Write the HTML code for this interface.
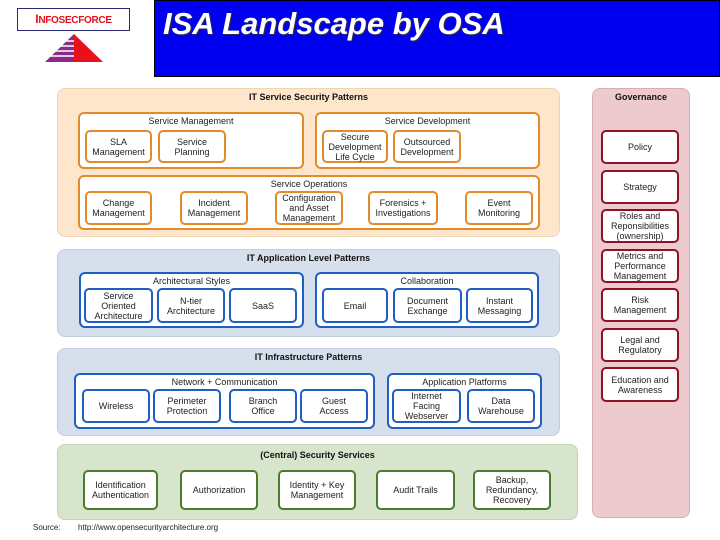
<!DOCTYPE html>
<html><head><meta charset="utf-8"><style>
*{margin:0;padding:0;box-sizing:border-box}
body{width:720px;height:540px;background:#fff;position:relative;overflow:hidden;font-family:"Liberation Sans",Arial,sans-serif}
div{position:absolute}
.p{border-radius:8px}
.t{font-weight:bold;font-size:9px;text-align:center;width:100%;top:3px;color:#111}
.g{background:#fff;border-radius:6px;border:2px solid}
.gl{font-size:9px;text-align:center;width:100%;top:2px;color:#222}
.b{background:#fff;border-radius:5px;border:2px solid;display:flex;align-items:center;justify-content:center;text-align:center;font-size:9px;line-height:10px;color:#222}
.o{border-color:#e38a2a}.bl{border-color:#1f5fc4}.r{border-color:#8c1224}.gr{border-color:#4d7a2c}
</style></head><body>
<div style="left:17px;top:8px;width:113px;height:23px;border:1px solid #2a2a70;color:#e01020;font-weight:bold;font-size:12px;text-align:center;line-height:21px;letter-spacing:-0.3px">I<span style="font-size:10px">NFOSECFORCE</span></div>
<svg style="position:absolute;left:44px;top:33px" width="60" height="30"><polygon points="30,1 59,29 30,29" fill="#e8101a"/><polygon points="30,1 1,29 30,29" fill="#8a2a8a"/><g stroke="#fff" stroke-width="1.6"><line x1="0" y1="8" x2="30" y2="8"/><line x1="0" y1="13" x2="30" y2="13"/><line x1="0" y1="18" x2="30" y2="18"/><line x1="0" y1="23" x2="30" y2="23"/></g></svg>
<div style="left:154px;top:0;width:566px;height:77px;background:#0000f0;border:1px solid #000"></div>
<div style="left:163px;top:6px;color:#fff;font-style:italic;font-weight:bold;font-size:31px;text-shadow:1px 1px 1px #333">ISA Landscape by OSA</div>

<!-- Orange -->
<div class="p" style="left:57px;top:88px;width:503px;height:149px;background:#fde6cb;border:1px solid #f0d4b0"><div class="t">IT Service Security Patterns</div></div>
<div class="g o" style="left:78px;top:112px;width:226px;height:57px"><div class="gl">Service Management</div></div>
<div class="g o" style="left:315px;top:112px;width:225px;height:57px"><div class="gl">Service Development</div></div>
<div class="b o" style="left:85px;top:130px;width:67px;height:33px">SLA<br>Management</div>
<div class="b o" style="left:158px;top:130px;width:68px;height:33px">Service<br>Planning</div>
<div class="b o" style="left:322px;top:130px;width:66px;height:33px">Secure<br>Development<br>Life Cycle</div>
<div class="b o" style="left:393px;top:130px;width:68px;height:33px">Outsourced<br>Development</div>
<div class="g o" style="left:78px;top:175px;width:462px;height:55px"><div class="gl">Service Operations</div></div>
<div class="b o" style="left:85px;top:191px;width:67px;height:34px">Change<br>Management</div>
<div class="b o" style="left:180px;top:191px;width:68px;height:34px">Incident<br>Management</div>
<div class="b o" style="left:275px;top:191px;width:68px;height:34px">Configuration<br>and Asset<br>Management</div>
<div class="b o" style="left:368px;top:191px;width:70px;height:34px">Forensics +<br>Investigations</div>
<div class="b o" style="left:465px;top:191px;width:68px;height:34px">Event<br>Monitoring</div>

<!-- Blue 1 -->
<div class="p" style="left:57px;top:249px;width:503px;height:88px;background:#d6e0ec;border:1px solid #c0cedf"><div class="t">IT Application Level Patterns</div></div>
<div class="g bl" style="left:79px;top:272px;width:225px;height:56px"><div class="gl">Architectural Styles</div></div>
<div class="g bl" style="left:315px;top:272px;width:224px;height:56px"><div class="gl">Collaboration</div></div>
<div class="b bl" style="left:84px;top:288px;width:69px;height:35px">Service<br>Oriented<br>Architecture</div>
<div class="b bl" style="left:157px;top:288px;width:68px;height:35px">N-tier<br>Architecture</div>
<div class="b bl" style="left:229px;top:288px;width:68px;height:35px">SaaS</div>
<div class="b bl" style="left:322px;top:288px;width:66px;height:35px">Email</div>
<div class="b bl" style="left:393px;top:288px;width:69px;height:35px">Document<br>Exchange</div>
<div class="b bl" style="left:466px;top:288px;width:67px;height:35px">Instant<br>Messaging</div>

<!-- Blue 2 -->
<div class="p" style="left:57px;top:348px;width:503px;height:88px;background:#d6e0ec;border:1px solid #c0cedf"><div class="t">IT Infrastructure Patterns</div></div>
<div class="g bl" style="left:74px;top:373px;width:301px;height:56px"><div class="gl">Network + Communication</div></div>
<div class="g bl" style="left:387px;top:373px;width:155px;height:56px"><div class="gl">Application Platforms</div></div>
<div class="b bl" style="left:82px;top:389px;width:68px;height:34px">Wireless</div>
<div class="b bl" style="left:153px;top:389px;width:68px;height:34px">Perimeter<br>Protection</div>
<div class="b bl" style="left:229px;top:389px;width:68px;height:34px">Branch<br>Office</div>
<div class="b bl" style="left:300px;top:389px;width:68px;height:34px">Guest<br>Access</div>
<div class="b bl" style="left:392px;top:389px;width:69px;height:34px">Internet<br>Facing<br>Webserver</div>
<div class="b bl" style="left:467px;top:389px;width:68px;height:34px">Data<br>Warehouse</div>

<!-- Green -->
<div class="p" style="left:57px;top:444px;width:521px;height:76px;background:#d8e5cd;border:1px solid #c2d4b4"><div class="t" style="top:5px">(Central) Security Services</div></div>
<div class="b gr" style="left:83px;top:470px;width:75px;height:40px">Identification<br>Authentication</div>
<div class="b gr" style="left:180px;top:470px;width:78px;height:40px">Authorization</div>
<div class="b gr" style="left:278px;top:470px;width:78px;height:40px">Identity + Key<br>Management</div>
<div class="b gr" style="left:376px;top:470px;width:79px;height:40px">Audit Trails</div>
<div class="b gr" style="left:473px;top:470px;width:78px;height:40px">Backup,<br>Redundancy,<br>Recovery</div>

<!-- Governance -->
<div class="p" style="left:592px;top:88px;width:98px;height:430px;background:#edcacd;border:1px solid #d8aeb2"><div class="t">Governance</div></div>
<div class="b r" style="left:601px;top:130px;width:78px;height:34px">Policy</div>
<div class="b r" style="left:601px;top:170px;width:78px;height:34px">Strategy</div>
<div class="b r" style="left:601px;top:209px;width:78px;height:34px">Roles and<br>Reponsibilities<br>(ownership)</div>
<div class="b r" style="left:601px;top:249px;width:78px;height:34px">Metrics and<br>Performance<br>Management</div>
<div class="b r" style="left:601px;top:288px;width:78px;height:34px">Risk<br>Management</div>
<div class="b r" style="left:601px;top:328px;width:78px;height:34px">Legal and<br>Regulatory</div>
<div class="b r" style="left:601px;top:367px;width:78px;height:35px">Education and<br>Awareness</div>

<div style="left:33px;top:523px;font-size:8px;color:#222">Source:</div>
<div style="left:78px;top:523px;font-size:8px;color:#222">http://www.opensecurityarchitecture.org</div>
</body></html>
